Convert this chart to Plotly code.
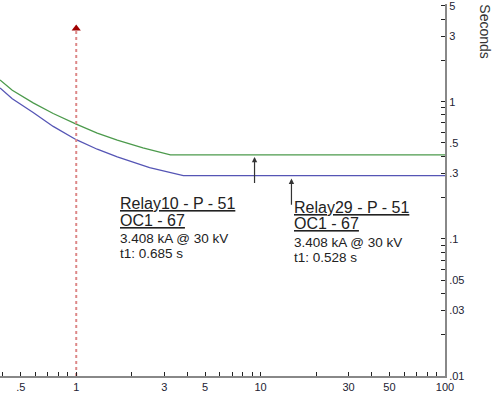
import math
import plotly.graph_objects as go

# relay curves (current multiple vs seconds)
relay10_x = [0.386, 0.45, 0.584, 0.75, 1.0, 1.3, 1.67, 2.3, 3.24, 100]
relay10_y = [1.44, 1.21, 0.98, 0.82, 0.685, 0.59, 0.524, 0.46, 0.41, 0.41]
relay29_x = [0.386, 0.45, 0.584, 0.75, 1.0, 1.3, 1.67, 2.5, 3.81, 100]
relay29_y = [1.26, 1.05, 0.834, 0.66, 0.528, 0.45, 0.396, 0.33, 0.289, 0.289]

fault_x = [1, 1]
fault_y = [0.01, 3.408]

x_labels = {0.5: ".5", 1: "1", 3: "3", 5: "5", 10: "10", 30: "30", 50: "50", 100: "100"}
y_labels = {0.01: ".01", 0.03: ".03", 0.05: ".05", 0.1: ".1", 0.3: ".3", 0.5: ".5",
            1: "1", 3: "3", 5: "5"}

relay10_text = ["Relay10 - P - 51", "OC1 - 67", "3.408 kA @ 30 kV", "t1: 0.685 s"]
relay29_text = ["Relay29 - P - 51", "OC1 - 67", "3.408 kA @ 30 kV", "t1: 0.528 s"]

x_ticks = [round(m * 10 ** e, 3) for e in (-1, 0, 1) for m in range(1, 10)] + [100]
x_ticks = [v for v in x_ticks if v >= 0.4]
y_ticks = [round(m * 10 ** e, 4) for e in (-2, -1, 0) for m in range(1, 10)]
y_ticks = [v for v in y_ticks if v <= 5]

fig = go.Figure()
fig.add_trace(go.Scatter(x=relay10_x, y=relay10_y, mode="lines",
                         line=dict(color="#4c9a4c", width=1.3)))
fig.add_trace(go.Scatter(x=relay29_x, y=relay29_y, mode="lines",
                         line=dict(color="#5555b5", width=1.3)))
fig.add_trace(go.Scatter(x=fault_x, y=fault_y, mode="lines",
                         line=dict(color="#dd8888", width=2, dash="dot")))
fig.add_trace(go.Scatter(x=fault_x[1:], y=fault_y[1:], mode="markers",
                         marker=dict(symbol="triangle-up", size=8, color="#a00000")))

font = "Liberation Sans, Arial, sans-serif"
ann = []


def label_block(x, ys, lines):
    for i, (yy, txt) in enumerate(zip(ys, lines)):
        big = i < 2
        ann.append(dict(x=math.log10(x), y=yy, xref="x", yref="y", showarrow=False,
                        text="<u>%s</u>" % txt if big else txt,
                        xanchor="left", yanchor="middle",
                        font=dict(family=font, size=16 if big else 13.5, color="#222222")))


label_block(1.68, [-0.741, -0.863, -1.0, -1.105], relay10_text)
label_block(14.8, [-0.768, -0.885, -1.025, -1.135], relay29_text)

# pointer arrows to the curves
for ax_, tip, tail in [(9.27, -0.403, -0.604), (14.7, -0.561, -0.763)]:
    ann.append(dict(x=math.log10(ax_), y=tip, ax=math.log10(ax_), ay=tail,
                    xref="x", yref="y", axref="x", ayref="y", text="",
                    showarrow=True, arrowhead=2, arrowsize=0.9, arrowwidth=1.2,
                    arrowcolor="#333333"))

ann.append(dict(x=1.112, y=1.005, xref="paper", yref="paper", text="Seconds",
                showarrow=False, textangle=90, yanchor="top",
                font=dict(family=font, size=14, color="#333333")))

fig.update_layout(
    width=499, height=393,
    margin=dict(l=0, r=54, t=0, b=16),
    plot_bgcolor="white", paper_bgcolor="white",
    showlegend=False,
    annotations=ann,
    font=dict(family=font, size=11, color="#222233"),
    xaxis=dict(type="log", range=[math.log10(0.386), 2],
               tickvals=x_ticks, ticktext=[x_labels.get(v, "") for v in x_ticks],
               ticks="inside", ticklen=4, tickcolor="#222222", tickwidth=1,
               showline=True, linecolor="#888888", linewidth=2,
               showgrid=False, zeroline=False, tickangle=0),
    yaxis=dict(type="log", range=[-2, 0.712], side="right",
               tickvals=y_ticks, ticktext=[y_labels.get(v, "") for v in y_ticks],
               ticks="inside", ticklen=4, tickcolor="#222222", tickwidth=1,
               showline=True, linecolor="#888888", linewidth=2,
               showgrid=False, zeroline=False, ticklabeloverflow="allow"),
)

# the page's default body margin shifts the figure; drop it
fig.write_html("out.html", config={"displayModeBar": False},
               post_script="document.body.style.margin='0';")
